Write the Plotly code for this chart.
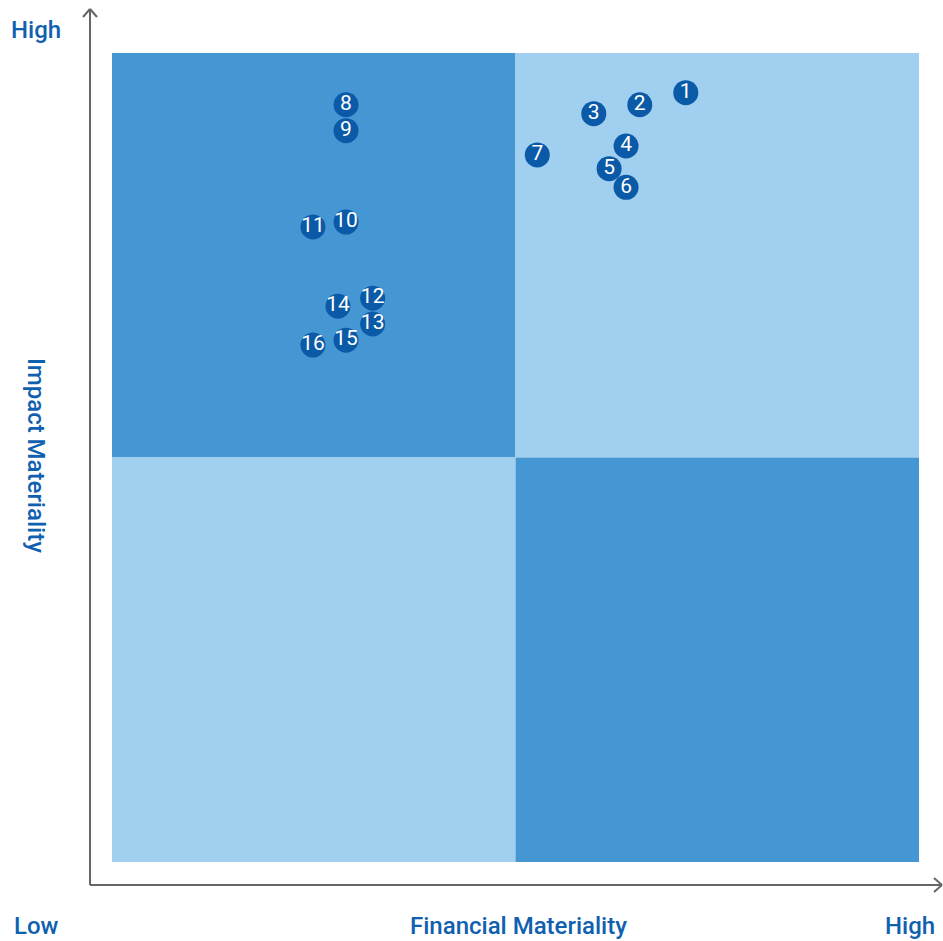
import plotly.graph_objects as go

labels = ["1", "2", "3", "4", "5", "6", "7", "8", "9", "10", "11", "12", "13", "14", "15", "16"]
financial = [7.11, 6.54, 5.97, 6.37, 6.16, 6.37, 5.27, 2.90, 2.90, 2.90, 2.49, 3.23, 3.23, 2.80, 2.90, 2.49]
impact = [9.51, 9.36, 9.25, 8.85, 8.57, 8.34, 8.74, 9.36, 9.04, 7.91, 7.85, 6.97, 6.65, 6.87, 6.45, 6.39]

DARK = "#4597d3"
LIGHT = "#a0cff0"
MARK = "#0b5aa7"
TXT = "#1060b0"
AX = "#666666"

fig = go.Figure()
fig.add_trace(go.Scatter(
    x=financial, y=impact, mode="markers+text", text=labels,
    textposition="middle center",
    marker=dict(size=25, color=MARK),
    textfont=dict(color="white", size=21, family="Roboto"),
    hoverinfo="skip", showlegend=False, cliponaxis=False,
))

shapes = [
    dict(type="rect", xref="x", yref="y", x0=0, x1=5, y0=5, y1=10, fillcolor=DARK, line_width=0, layer="below"),
    dict(type="rect", xref="x", yref="y", x0=5, x1=10, y0=5, y1=10, fillcolor=LIGHT, line_width=0, layer="below"),
    dict(type="rect", xref="x", yref="y", x0=0, x1=5, y0=0, y1=5, fillcolor=LIGHT, line_width=0, layer="below"),
    dict(type="rect", xref="x", yref="y", x0=5, x1=10, y0=0, y1=5, fillcolor=DARK, line_width=0, layer="below"),
]
W, H = 807.0, 809.0
def px(x):
    return (x - 112) / W
def py(y):
    return (862 - y) / H
lw = 2
shapes += [
    dict(type="line", xref="paper", yref="paper", x0=px(90), x1=px(90), y0=py(885), y1=py(9), line=dict(color=AX, width=lw)),
    dict(type="line", xref="paper", yref="paper", x0=px(90), x1=px(941), y0=py(885), y1=py(885), line=dict(color=AX, width=lw)),
    dict(type="line", xref="paper", yref="paper", x0=px(83), x1=px(90), y0=py(17), y1=py(9), line=dict(color=AX, width=lw)),
    dict(type="line", xref="paper", yref="paper", x0=px(97), x1=px(90), y0=py(17), y1=py(9), line=dict(color=AX, width=lw)),
    dict(type="line", xref="paper", yref="paper", x0=px(934), x1=px(942), y0=py(878), y1=py(885), line=dict(color=AX, width=lw)),
    dict(type="line", xref="paper", yref="paper", x0=px(934), x1=px(942), y0=py(892), y1=py(885), line=dict(color=AX, width=lw)),
]

font = dict(family="Roboto", size=24, color=TXT, weight=500)
def ann(text, x, y, **kw):
    return dict(text=text, x=px(x), y=py(y), xref="paper", yref="paper", showarrow=False,
                font=font, xanchor="center", yanchor="middle", **kw)
annotations = [
    ann("High", 36, 30),
    ann("Low", 36, 926),
    ann("Financial Materiality", 518, 926),
    ann("High", 910, 926),
    ann("Impact Materiality", 36, 455, textangle=90),
]

fig.update_layout(
    width=943, height=941,
    margin=dict(l=112, r=24, t=53, b=79),
    paper_bgcolor="white", plot_bgcolor="white",
    xaxis=dict(range=[0, 10], visible=False, fixedrange=True),
    yaxis=dict(range=[0, 10], visible=False, fixedrange=True),
    shapes=shapes, annotations=annotations,
)
fig.write_html("out.html")
